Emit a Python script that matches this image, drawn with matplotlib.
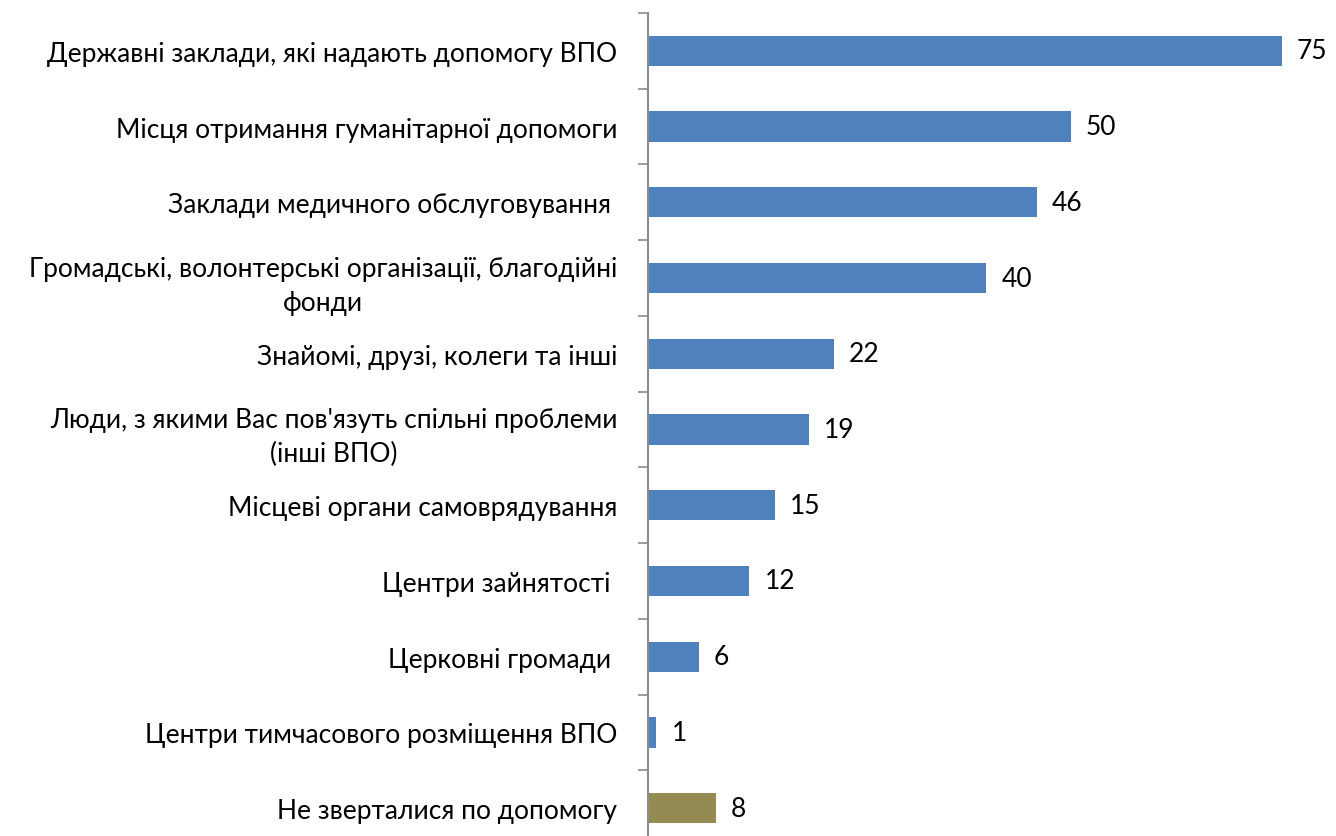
import matplotlib
matplotlib.use("Agg")
import matplotlib.pyplot as plt
import numpy as np

# categories top to bottom
labels = [
    "Державні заклади, які надають допомогу ВПО",
    "Місця отримання гуманітарної допомоги",
    "Заклади медичного обслуговування ",
    "Громадські, волонтерські організації, благодійні\nфонди",
    "Знайомі, друзі, колеги та інші",
    "Люди, з якими Вас пов'язуть спільні проблеми\n(інші ВПО)",
    "Місцеві органи самоврядування",
    "Центри зайнятості ",
    "Церковні громади ",
    "Центри тимчасового розміщення ВПО",
    "Не зверталися по допомогу",
]
values = [75, 50, 46, 40, 22, 19, 15, 12, 6, 1, 8]
colors = ["#4F81BD"] * 10 + ["#948A54"]

plt.rcParams['font.family'] = ['Lato', 'DejaVu Sans']

fig = plt.figure(figsize=(13.36, 8.37), dpi=100)
ax = fig.add_axes([648 / 1336, 1 - 847 / 837, 676 / 1336, 833 / 837])

y = np.arange(len(labels))
ax.barh(y, values, height=0.4, color=colors)
ax.set_ylim(len(labels) - 0.5, -0.5)
ax.set_xlim(0, 80)

for yi, v in zip(y, values):
    ax.text(v + 1.8, yi, str(v), va="center", ha="left", fontsize=19)

# category labels placed without ticks, ticks sit between categories
ax.set_yticks(y)
ax.set_yticklabels(labels, fontsize=19, multialignment="center", linespacing=1.45)
ax.tick_params(axis="y", which="major", length=0, pad=22)
ax.set_yticks(np.arange(-0.5, len(labels) + 0.5, 1), minor=True)
ax.tick_params(axis="y", which="minor", length=7.2, width=1.2, color="#8c8c8c")

ax.set_xticks([])
for s in ["top", "right", "bottom"]:
    ax.spines[s].set_visible(False)
ax.spines["left"].set_color("#8c8c8c")
ax.spines["left"].set_linewidth(1.5)

fig.savefig("out.png", dpi=100)
